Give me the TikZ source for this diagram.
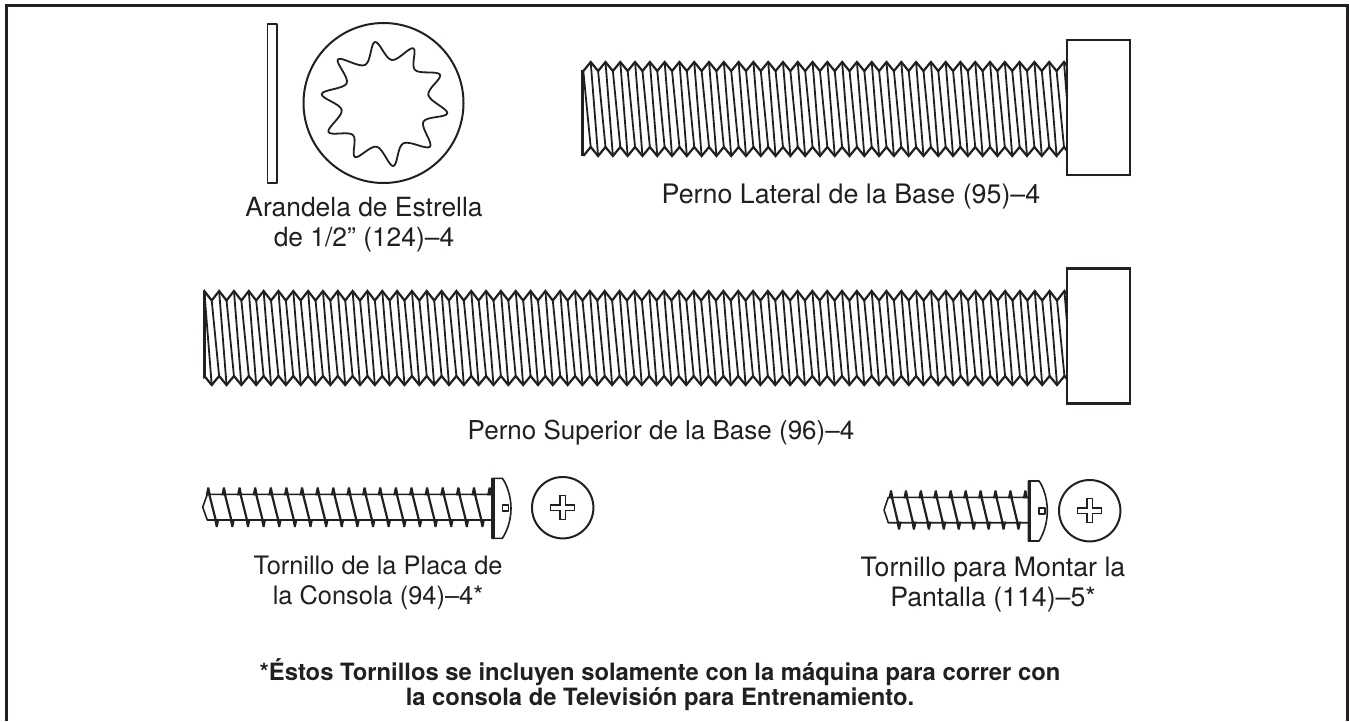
\documentclass[tikz,border=0pt]{standalone}
\usepackage{fontspec}
\setmainfont{TeX Gyre Heros}
\definecolor{ink}{HTML}{231F20}
\tikzset{
  outline/.style={draw=ink,line width=1.6pt,line join=round},
  heavy/.style={draw=ink,line width=2.6pt,line join=miter},
  zigzag/.style={draw=ink,line width=2.2pt,line join=miter},
  threadline/.style={draw=ink,line width=1.8pt},
  ringline/.style={draw=ink,line width=2pt},
  caption/.style={font=\fontsize{#1}{30}\selectfont,align=center,text=ink,inner sep=0pt},
  caption/.default=26,
  note/.style={font=\fontsize{23.8}{25}\selectfont\bfseries,align=center,text=ink,inner sep=0pt}
}
% first crest x, pitch, last k, y top outer, y top inner, y bottom inner, y bottom outer
\newcommand{\boltthread}[7]{%
  \pgfmathsetmacro{\hp}{#2/2}
  \draw[zigzag] ({#1-\hp},#5)
    \foreach \k in {0,...,#3}{ -- ({#1+\k*#2},#4) -- ({#1+\k*#2+\hp},#5) };
  \draw[zigzag] ({#1-\hp},#7)
    \foreach \k in {0,...,#3}{ -- ({#1+\k*#2},#6) -- ({#1+\k*#2+\hp},#7) };
  \draw[threadline] ({#1-\hp},#5) -- (#1,#6);
  \foreach \k in {0,...,#3}{
    \draw[threadline] ({#1+\k*#2},#4) -- ({#1+\k*#2+\hp},#7);
    \draw[threadline] ({#1+\k*#2+\hp},#5) -- ({#1+\k*#2+#2},#6);
  }
}
% top x, bottom x, pitch, last top k, last bottom k, y body top, y body bottom
\newcommand{\screwthread}[7]{%
  \pgfmathsetmacro{\dx}{#2-#1}
  \foreach \k in {0,...,#4}{
    \fill[ink] ({#1+\k*#3-1},{#6-7}) -- ({#1+\k*#3+1},{#6-7}) -- ({#1+\k*#3+2.6},{#6+1}) -- ({#1+\k*#3-2.6},{#6+1}) -- cycle;
  }
  \foreach \k in {0,...,#5}{
    \draw[ink,line width=2.2pt] ({#1+\k*#3},{#6-4}) -- ({#1+\k*#3+\dx},{#7+4});
    \fill[ink] ({#2+\k*#3-1},{#7+7}) -- ({#2+\k*#3+1},{#7+7}) -- ({#2+\k*#3+2.6},{#7-1}) -- ({#2+\k*#3-2.6},{#7-1}) -- cycle;
  }
}
\newcommand{\phillips}[2]{%
  \draw[outline,line width=1.4pt,line join=miter] ({#1-2.6},{#2-12}) -- ({#1+2.6},{#2-12}) -- ({#1+2.6},{#2-2.6}) -- ({#1+12},{#2-2.6})
    -- ({#1+12},{#2+2.6}) -- ({#1+2.6},{#2+2.6}) -- ({#1+2.6},{#2+12}) -- ({#1-2.6},{#2+12})
    -- ({#1-2.6},{#2+2.6}) -- ({#1-12},{#2+2.6}) -- ({#1-12},{#2-2.6}) -- ({#1-2.6},{#2-2.6}) -- cycle;
}
\begin{document}
\begin{tikzpicture}[x=1pt,y=-1pt]
\useasboundingbox (0,0) rectangle (1349,721);
% frame, open at the bottom
\draw[ink,line width=3pt] (6.5,721) -- (6.5,5) -- (1347,5) -- (1347,721);
% washer
\draw[outline] (267.5,24) rectangle (277,183);
\draw[ringline] (383.5,103) circle (80);
\draw[ink,line width=1.8pt,line join=round] plot[smooth cycle,tension=0.6] coordinates {
 (375,42) (391.7,60) (413.3,48.3) (415,70) (440,74.7) (428.3,95) (447.3,113.3) (423.3,121.7)
 (430,146.7) (403.3,143.3) (393.3,166) (376.7,146.7) (355,157) (353,135) (328.5,132)
 (341.7,110) (321.7,94) (346.7,83.3) (338,59.3) (365,65)};
% bolt 95
\boltthread{590.7}{14.79}{32}{62}{71}{147}{156}
\draw[ink,line width=3pt] (582.8,70) -- (582.8,156);
\draw[heavy,fill=white] (1067,40) rectangle (1130,175);
% bolt 96
\boltthread{204.3}{14.83}{58}{291}{300.5}{376}{385}
\fill[white] (195,285) rectangle (203,392);
\draw[ink,line width=3pt] (204.8,291) -- (204.8,376);
\draw[heavy,fill=white] (1067,268.5) rectangle (1130,403.5);
% screw 94
\draw[outline] (491.5,494.3) -- (207.3,494.3) -- (202.7,507.2) -- (207.3,520) -- (491.5,520);
\screwthread{208.3}{216.7}{15.63}{18}{17}{494.3}{520}
\draw[outline,fill=white] (492,478.3) -- (502.3,478.3) .. controls (506,483) and (511,495) .. (511,508.3) .. controls (511,522) and (506,533) .. (502.3,538.3) -- (492,538.3) -- cycle;
\draw[ink,line width=3pt] (493,478) -- (493,539);
\draw[outline] (502.3,505) -- (508.3,505) -- (508.3,510.7) -- (502.3,510.7) -- cycle;
\draw[ringline] (562.7,507.7) circle (30.7);
\phillips{562.7}{507.7}
% screw 114
\draw[outline] (1028,497.3) -- (888.3,497.3) -- (884,510) -- (888.3,522.7) -- (1028,522.7);
\screwthread{891}{899}{14.93}{9}{8}{497.3}{522.7}
\draw[outline,fill=white] (1028.3,481) -- (1039,481) .. controls (1043,486) and (1047.3,498) .. (1047.3,510.7) .. controls (1047.3,524) and (1043,535) .. (1039,541) -- (1028.3,541) -- cycle;
\draw[ink,line width=3pt] (1029.5,481) -- (1029.5,541);
\draw[outline] (1039,507.7) -- (1045,507.7) -- (1045,513.7) -- (1039,513.7) -- cycle;
\draw[ringline] (1089.7,510.7) circle (30.7);
\phillips{1089.7}{510.7}
% captions
\node[caption=26.4] (a) at (364,225) {Arandela de Estrella\\de 1/2” (124)–4};
\node[caption=26.8] (b) at (851,197) {Perno Lateral de la Base (95)–4};
\node[caption] (c) at (661,432.5) {Perno Superior de la Base (96)–4};
\node[caption=25.4] (d) at (378,583) {Tornillo de la Placa de\\la Consola (94)–4*};
\node[caption=26.7] (e) at (993,585) {Tornillo para Montar la\\Pantalla (114)–5*};
\node[note] (f) at (660,685) {*Éstos Tornillos se incluyen solamente con la máquina para correr con\\la consola de Televisión para Entrenamiento.};
\end{tikzpicture}
\end{document}
